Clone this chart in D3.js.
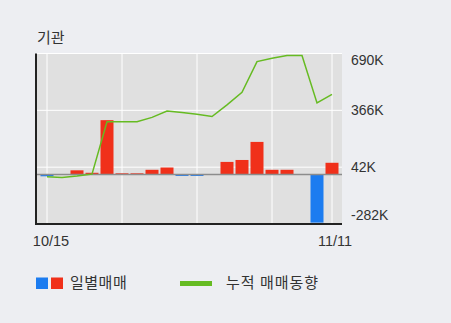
<!DOCTYPE html>
<html>
<head>
<meta charset="utf-8">
<script src="https://cdn.jsdelivr.net/npm/d3@7"></script>
<style>
  body { margin: 0; background: #edeef2; }
  svg { display: block; font-family: "Liberation Sans", Arial, sans-serif; }
</style>
</head>
<body>
<div id="chart"></div>
<script>
// 기관 일별 순매매 (K주) 10/15 ~ 11/11
const dates = ["10/15","10/16","10/17","10/18","10/21","10/22","10/23","10/24","10/25","10/28",
               "10/29","10/30","10/31","11/01","11/04","11/05","11/06","11/07","11/08","11/11"];
const daily = [-10, 0, 24, 10, 310, 7, 7, 27, 40, -8, -8, 0, 72, 83, 186, 27, 27, 0, -274, 67];
const cumulative = [-13, -17, -9, 2, 301, 301, 301, 326, 362, 354, 343, 331, 397, 469, 644, 663, 678, 678, 408, 457];
const yTicks = [690, 366, 42, -282];
const xLabels = ["10/15", "11/11"];

const width = 451, height = 323;
const plotLeft = 36, plotRight = 342, plotTop = 53.5, plotBottom = 224;

const svg = d3.select("#chart").append("svg")
    .attr("width", width)
    .attr("height", height);

const x = d3.scalePoint()
    .domain(dates)
    .range([47, 332]);

const y = d3.scaleLinear()
    .domain([-282, 690])
    .range([plotBottom, plotTop]);

// 배경
svg.append("rect")
    .attr("x", plotLeft).attr("y", plotTop)
    .attr("width", plotRight - plotLeft).attr("height", plotBottom - plotTop)
    .attr("fill", "#e0e0e0");

// 그리드
svg.append("g")
    .selectAll("line")
    .data(yTicks)
    .join("line")
    .attr("x1", plotLeft).attr("x2", plotRight)
    .attr("y1", d => y(d)).attr("y2", d => y(d))
    .attr("stroke", "#fff").attr("stroke-width", 1);

const gridDates = dates.filter((d, i) => i % 5 === 0 || i === dates.length - 1);
svg.append("g")
    .selectAll("line")
    .data(gridDates)
    .join("line")
    .attr("x1", d => x(d)).attr("x2", d => x(d))
    .attr("y1", plotTop).attr("y2", plotBottom)
    .attr("stroke", "#fff").attr("stroke-width", 1);

// 막대
const barW = 13;
svg.append("g")
    .selectAll("rect")
    .data(daily.map((v, i) => ({date: dates[i], v})))
    .join("rect")
    .attr("x", d => x(d.date) - barW / 2)
    .attr("width", barW)
    .attr("y", d => y(Math.max(0, d.v)))
    .attr("height", d => Math.abs(y(d.v) - y(0)))
    .attr("fill", d => d.v < 0 ? "#1c7cf0" : "#f0301a");

// 0 기준선
svg.append("line")
    .attr("x1", plotLeft).attr("x2", plotRight)
    .attr("y1", y(0)).attr("y2", y(0))
    .attr("stroke", "#8c8c8c").attr("stroke-width", 1.5);

// 누적 라인
const line = d3.line()
    .x((d, i) => x(dates[i]))
    .y(d => y(d));

svg.append("path")
    .datum(cumulative)
    .attr("d", line)
    .attr("fill", "none")
    .attr("stroke", "#66bb22")
    .attr("stroke-width", 1.5);

// 축
svg.append("line")
    .attr("x1", plotLeft).attr("x2", plotLeft)
    .attr("y1", plotTop).attr("y2", plotBottom + 1)
    .attr("stroke", "#222").attr("stroke-width", 2);
svg.append("line")
    .attr("x1", plotLeft - 1).attr("x2", plotRight)
    .attr("y1", plotBottom).attr("y2", plotBottom)
    .attr("stroke", "#222").attr("stroke-width", 2);

// y 라벨
svg.append("g")
    .selectAll("text")
    .data(yTicks)
    .join("text")
    .attr("x", 351)
    .attr("y", d => Math.min(Math.max(y(d), 60), 215))
    .attr("dy", "0.35em")
    .attr("font-size", 14)
    .attr("fill", "#333")
    .text(d => d + "K");

// x 라벨
svg.append("g")
    .selectAll("text")
    .data(xLabels)
    .join("text")
    .attr("x", d => x(d) + (d === "10/15" ? 4 : 3))
    .attr("y", 246)
    .attr("text-anchor", "middle")
    .attr("font-size", 14.5)
    .attr("fill", "#333")
    .text(d => d);

// 제목
svg.append("text")
    .attr("x", 37).attr("y", 43)
    .attr("font-family", "'Noto Sans CJK KR', sans-serif")
    .attr("font-size", 15)
    .attr("fill", "#333")
    .text("기관");

// 범례
const legend = svg.append("g");
legend.append("rect").attr("x", 36).attr("y", 277.5).attr("width", 12).attr("height", 11.5).attr("fill", "#1c7cf0");
legend.append("rect").attr("x", 51).attr("y", 277.5).attr("width", 12).attr("height", 11.5).attr("fill", "#f0301a");
legend.append("text")
    .attr("x", 70).attr("y", 283).attr("dy", "0.35em")
    .attr("font-family", "'Noto Sans CJK KR', sans-serif")
    .attr("font-size", 15).attr("letter-spacing", 0.5).attr("fill", "#333")
    .text("일별매매");
legend.append("line")
    .attr("x1", 180).attr("x2", 212)
    .attr("y1", 283.5).attr("y2", 283.5)
    .attr("stroke", "#66bb22").attr("stroke-width", 5);
legend.append("text")
    .attr("x", 226).attr("y", 283).attr("dy", "0.35em")
    .attr("font-family", "'Noto Sans CJK KR', sans-serif")
    .attr("font-size", 15).attr("letter-spacing", 1).attr("fill", "#333")
    .text("누적 매매동향");
</script>
</body>
</html>
